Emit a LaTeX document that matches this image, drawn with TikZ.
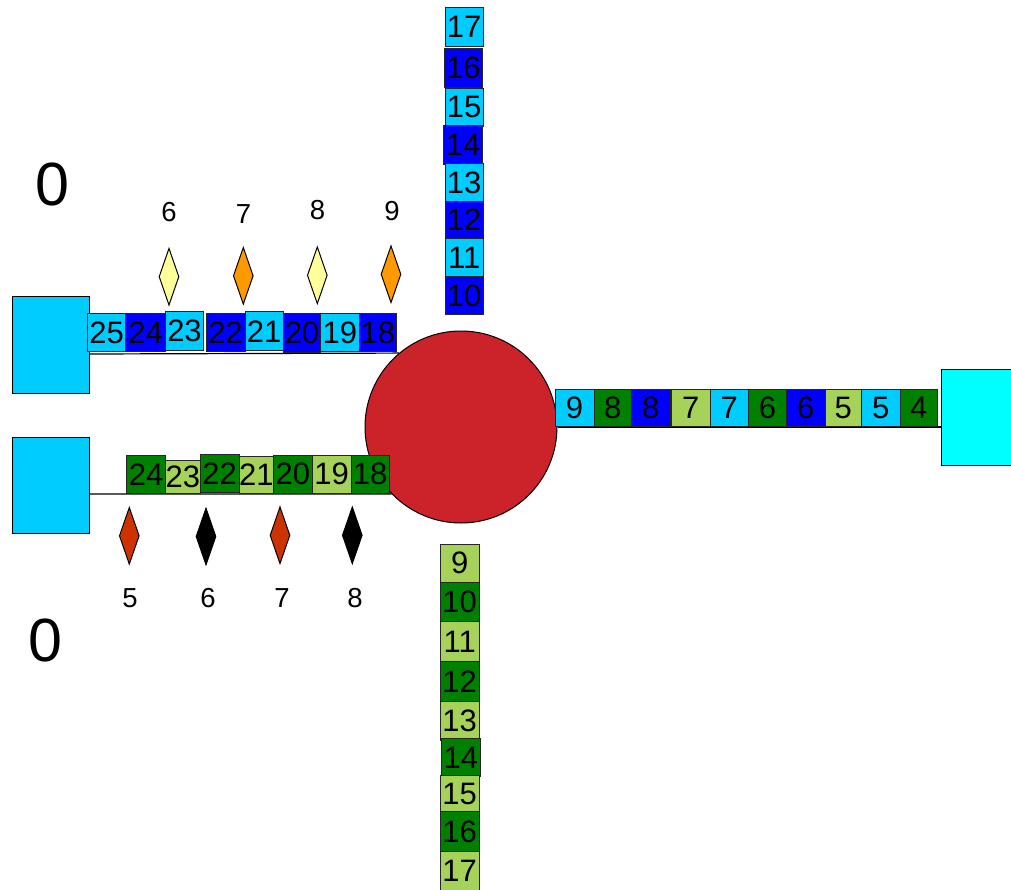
\documentclass[tikz,border=0pt]{standalone}
\usepackage{fontspec}
\setmainfont{Liberation Sans}
\usetikzlibrary{shapes.geometric}
\definecolor{ltblue}{RGB}{0,204,255}
\definecolor{dkblue}{RGB}{0,0,255}
\definecolor{dkgreen}{RGB}{0,128,0}
\definecolor{ltgreen}{RGB}{166,210,90}
\definecolor{cyanbox}{RGB}{0,255,255}
\definecolor{paleyellow}{RGB}{255,255,153}
\definecolor{gemorange}{RGB}{255,153,0}
\definecolor{gemred}{RGB}{204,51,0}
\definecolor{hubred}{RGB}{204,34,41}
\begin{document}
\begin{tikzpicture}[x=1pt,y=-1pt,
  cell/.style={draw=black!85, line width=0.9pt, inner sep=0pt, font=\fontsize{31}{31}\selectfont},
  port/.style={draw=black, line width=1pt, inner sep=0pt},
  gem/.style={diamond, draw=black, line width=1pt, inner sep=0pt, minimum width=20pt, minimum height=57pt},
  lbl/.style={font=\fontsize{27.5}{27.5}\selectfont, inner sep=0pt},
  big/.style={font=\fontsize{61}{61}\selectfont, inner sep=0pt},
  link/.style={draw=black, line width=1.2pt}]
\useasboundingbox (0,0) rectangle (1011,890);
\clip (0,0) rectangle (1011,890);

% ports and hub
\node[port, fill=ltblue, minimum width=77pt, minimum height=96pt] (sqTL) at (50.5,345) {};
\node[port, fill=ltblue, minimum width=77pt, minimum height=96pt] (sqBL) at (50.5,485) {};
\node[port, fill=cyanbox, minimum width=79pt, minimum height=96.4pt] (sqR) at (980.5,417.5) {};
\node[circle, draw=black, line width=1pt, fill=hubred, minimum size=192pt, inner sep=0pt] (hub) at (461,427) {};

% links
\draw[link] (sqTL.east |- 0,354) -- (hub.130.5);
\draw[link] (sqBL.east |- 0,494) -- (hub.224.3);
\draw[link] (hub.east) -- (sqR.west |- hub.east);

% top-left row
\foreach \n/\x/\y/\w/\h/\c/\t in {
  t25/106.7/332.5/38/38.5/ltblue/25,
  t24/145.7/332.5/40/38.5/dkblue/24,
  t23/184.5/330.8/37.6/38.3/ltblue/23,
  t22/225.5/332.5/39/38.5/dkblue/22,
  t21/264.2/331.3/38.3/38.7/ltblue/21,
  t20/302/332.8/37.4/39/dkblue/20,
  t19/339.8/332.5/38.3/38.5/ltblue/19,
  t18/377.8/332.5/37.7/38.5/dkblue/18}
  \node[cell, fill=\c, minimum width=\w pt, minimum height=\h pt] (\n) at (\x,\y) {\t};

% bottom-left row
\foreach \n/\x/\y/\w/\h/\c/\t in {
  b24/146.2/474.2/39/38.3/dkgreen/24,
  b23/182.8/476.7/34.3/33.3/ltgreen/23,
  b22/219.7/473.2/39.3/38.3/dkgreen/22,
  b21/256.3/475/34/36.6/ltgreen/21,
  b20/292.8/474.2/39/38.3/dkgreen/20,
  b19/331.7/474.2/38.7/38.3/ltgreen/19,
  b18/370.2/474.2/38.3/38.3/dkgreen/18}
  \node[cell, fill=\c, minimum width=\w pt, minimum height=\h pt] (\n) at (\x,\y) {\t};

% right row
\foreach \n/\x/\w/\c/\t in {
  r9/574.5/39/ltblue/9,
  r8a/612.8/37.7/dkgreen/8,
  r8b/650.8/38.3/dkblue/8,
  r7a/690.8/38.3/ltgreen/7,
  r7b/729.2/38.3/ltblue/7,
  r6a/767.5/38.3/dkgreen/6,
  r6b/805.8/38.3/dkblue/6,
  r5a/843.3/36.7/ltgreen/5,
  r5b/880.8/38.3/ltblue/5,
  r4/918.8/37.7/dkgreen/4}
  \node[cell, fill=\c, minimum width=\w pt, minimum height=37.4pt] (\n) at (\x,408) {\t};

% upper column
\foreach \n/\x/\y/\h/\c/\t in {
  u17/464.2/27/39.4/ltblue/17,
  u16/463.3/67.8/39/dkblue/16,
  u15/464.2/107.2/37.7/ltblue/15,
  u14/463/144.5/39/dkblue/14,
  u13/464.2/182.5/38.4/ltblue/13,
  u12/464.2/220/36.6/dkblue/12,
  u11/464.2/257.5/38.4/ltblue/11,
  u10/464.2/295.8/38.3/dkblue/10}
  \node[cell, fill=\c, minimum width=38.3pt, minimum height=\h pt] (\n) at (\x,\y) {\t};

% lower column
\foreach \n/\x/\y/\h/\c/\t in {
  d9/459.7/563.3/38.7/ltgreen/9,
  d10/459.7/602.2/39/dkgreen/10,
  d11/459.7/641.7/40/ltgreen/11,
  d12/459.7/681.7/40/dkgreen/12,
  d13/459.7/720.8/38.3/ltgreen/13,
  d14/460.8/757.5/38.4/dkgreen/14,
  d15/459.7/794.2/38.3/ltgreen/15,
  d16/459.7/831.7/40/dkgreen/16,
  d17/459.7/870.8/38.3/ltgreen/17}
  \node[cell, fill=\c, minimum width=39.3pt, minimum height=\h pt] (\n) at (\x,\y) {\t};

% upper markers
\node[gem, fill=paleyellow] (g6) at (169,276.7) {};
\node[gem, fill=gemorange] (g7) at (243.3,275.8) {};
\node[gem, fill=paleyellow] (g8) at (317.3,275.3) {};
\node[gem, fill=gemorange] (g9) at (391,274.3) {};
\node[lbl] (l6) at (169,212) {6};
\node[lbl] (l7) at (243.5,214) {7};
\node[lbl] (l8) at (317.5,210.5) {8};
\node[lbl] (l9) at (392,211) {9};

% lower markers
\node[gem, fill=gemred] (h5) at (129.3,535.8) {};
\node[gem, fill=black] (h6) at (206,536.5) {};
\node[gem, fill=gemred] (h7) at (280,535.3) {};
\node[gem, fill=black] (h8) at (352.3,535.3) {};
\node[lbl] (m5) at (130,598) {5};
\node[lbl] (m6) at (208,598) {6};
\node[lbl] (m7) at (282,598) {7};
\node[lbl] (m8) at (355,598) {8};

% zeros
\node[big] (z1) at (52,185) {0};
\node[big] (z2) at (45.5,640.5) {0};
\end{tikzpicture}
\end{document}
